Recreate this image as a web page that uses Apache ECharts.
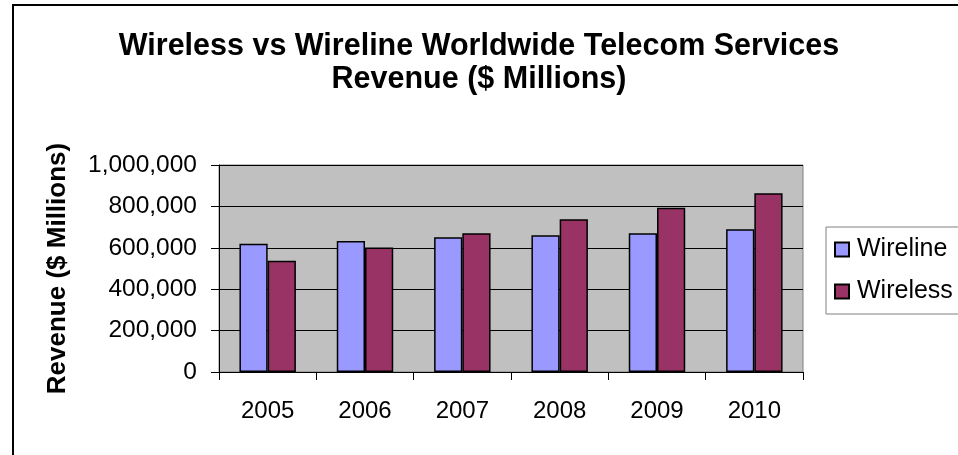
<!DOCTYPE html>
<html>
<head>
<meta charset="utf-8">
<script src="https://cdn.jsdelivr.net/npm/echarts@6/dist/echarts.min.js"></script>
<style>
html,body{margin:0;padding:0;background:#fff;}
#c{width:958px;height:455px;}
</style>
</head>
<body>
<div id="c"></div>
<script>
const categories = ['2005', '2006', '2007', '2008', '2009', '2010'];
const wireline = [620000, 633000, 651000, 661000, 670000, 690000];
const wireless = [537000, 601000, 670000, 738000, 794000, 863000];
const seriesNames = ['Wireline', 'Wireless'];
const yTicks = { min: 0, max: 1000000, interval: 200000 };

const FONT = '"Liberation Sans", Arial, sans-serif';
const chart = echarts.init(document.getElementById('c'), null, { renderer: 'canvas' });

chart.setOption({
  backgroundColor: '#ffffff',
  animation: false,
  title: {
    text: 'Wireless vs Wireline Worldwide Telecom Services\nRevenue ($ Millions)',
    left: 'center',
    top: 25,
    textStyle: { fontFamily: FONT, fontSize: 30.5, fontWeight: 'bold', color: '#000', lineHeight: 33 }
  },
  graphic: [{
    type: 'rect',
    z: -1,
    silent: true,
    shape: { x: 13, y: 5, width: 1000, height: 500 },
    style: { fill: 'none', stroke: '#000', lineWidth: 2 }
  }],
  legend: {
    orient: 'vertical',
    left: 826,
    top: 227,
    data: seriesNames,
    backgroundColor: '#ffffff',
    borderColor: '#808080',
    borderWidth: 1,
    padding: [10, 30, 10, 8],
    itemWidth: 14,
    itemHeight: 14,
    itemGap: 17,
    icon: 'rect',
    textStyle: { fontFamily: FONT, fontSize: 25, color: '#000', padding: [0, 0, 0, 3], lineHeight: 25 }
  },
  grid: {
    left: 219, right: 155, top: 165, bottom: 83,
    show: true,
    backgroundColor: '#C0C0C0',
    borderColor: '#808080',
    borderWidth: 1
  },
  xAxis: {
    type: 'category',
    data: categories,
    axisLine: { lineStyle: { color: '#000', width: 1 } },
    axisTick: { show: true, length: 8, lineStyle: { color: '#000' } },
    axisLabel: { fontFamily: FONT, fontSize: 24, color: '#000', margin: 27 }
  },
  yAxis: {
    type: 'value',
    min: yTicks.min, max: yTicks.max, interval: yTicks.interval,
    name: 'Revenue ($ Millions)',
    nameLocation: 'middle',
    nameGap: 148,
    nameTextStyle: { fontFamily: FONT, fontSize: 26, fontWeight: 'bold', color: '#000' },
    axisLine: { show: true, lineStyle: { color: '#000', width: 1 } },
    axisTick: { show: true, length: 8, lineStyle: { color: '#000' } },
    axisLabel: {
      fontFamily: FONT, fontSize: 24.5, color: '#000', margin: 22,
      formatter: v => v.toLocaleString('en-US')
    },
    splitLine: { show: true, lineStyle: { color: '#000', width: 1 } }
  },
  series: [
    {
      name: seriesNames[0], type: 'bar', data: wireline,
      barGap: '0%', barCategoryGap: '42%',
      itemStyle: { color: '#9999FF', borderColor: '#000', borderWidth: 1.5 }
    },
    {
      name: seriesNames[1], type: 'bar', data: wireless,
      barGap: '0%', barCategoryGap: '42%',
      itemStyle: { color: '#993366', borderColor: '#000', borderWidth: 1.5 }
    }
  ]
});
</script>
</body>
</html>
